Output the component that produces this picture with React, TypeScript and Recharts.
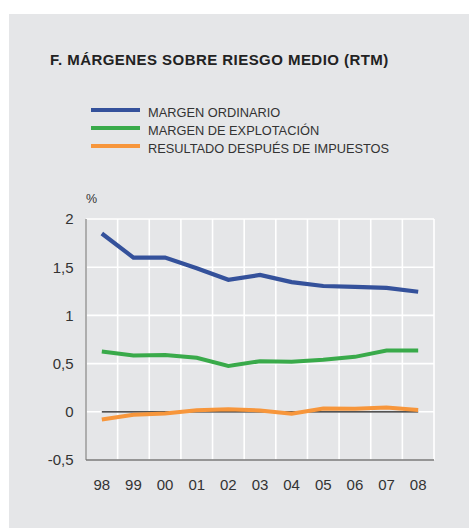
import React from 'react';
import { LineChart, Line, XAxis, YAxis, CartesianGrid, ReferenceLine } from 'recharts';

const years = ['98', '99', '00', '01', '02', '03', '04', '05', '06', '07', '08'];
const margenOrdinario = [1.85, 1.6, 1.6, 1.49, 1.37, 1.42, 1.345, 1.305, 1.295, 1.285, 1.245];
const margenExplotacion = [0.625, 0.585, 0.59, 0.56, 0.475, 0.525, 0.52, 0.54, 0.57, 0.635, 0.635];
const resultadoDespues = [-0.08, -0.03, -0.017, 0.017, 0.027, 0.014, -0.02, 0.035, 0.031, 0.045, 0.018];
const yTicks = [-0.5, 0, 0.5, 1, 1.5, 2];
const xTicks = years.map((_, i) => i);
const bandEdges = Array.from({ length: years.length + 1 }, (_, k) => k - 0.5);

const seriesNames = ['MARGEN ORDINARIO', 'MARGEN DE EXPLOTACIÓN', 'RESULTADO DESPUÉS DE IMPUESTOS'];
const seriesColors = ['#34519b', '#39aa4a', '#f7963b'];

const data = years.map((y, i) => ({
  i,
  year: y,
  mo: margenOrdinario[i],
  me: margenExplotacion[i],
  rd: resultadoDespues[i],
}));

const FONT = '"Liberation Sans", Arial, Helvetica, sans-serif';
const TEXT = '#333333';
const GRID = '#ffffff';

export default function App() {
  return (
    <div style={{ position: 'fixed', left: 0, top: 0, width: 469, height: 528, background: '#ffffff', overflow: 'hidden', fontFamily: FONT }}>
      <div style={{ position: 'absolute', left: 9, top: 14, width: 460, height: 514, background: '#e5e6e8' }} />
      <div style={{ position: 'absolute', left: 50, top: 52, fontSize: 15, lineHeight: '15px', fontWeight: 'bold', color: '#222', letterSpacing: 0.45, whiteSpace: 'nowrap' }}>
        F. MÁRGENES SOBRE RIESGO MEDIO (RTM)
      </div>
      {seriesNames.map((name, k) => (
        <div key={name} style={{ position: 'absolute', left: 91, top: 106.7 + k * 18.3, height: 13, whiteSpace: 'nowrap' }}>
          <div style={{ position: 'absolute', left: 0, top: 1, width: 49, height: 4, background: seriesColors[k] }} />
          <div style={{ position: 'absolute', left: 57, top: 0, fontSize: 12.8, lineHeight: '12.5px', color: TEXT }}>{name}</div>
        </div>
      ))}
      <div style={{ position: 'absolute', left: 86, top: 193.4, fontSize: 12.5, lineHeight: '12.5px', color: TEXT }}>%</div>
      <div style={{ position: 'absolute', left: 0, top: 0 }}>
        <LineChart width={469} height={528} data={data} margin={{ top: 219, right: 35, bottom: 28, left: 26 }}>
          <CartesianGrid stroke={GRID} strokeWidth={1.6} horizontal={true} vertical={false} />
          {bandEdges.map((e) => (
            <ReferenceLine key={'v' + e} x={e} stroke={GRID} strokeWidth={1.6} />
          ))}
          <XAxis
            type="number"
            dataKey="i"
            domain={[-0.5, years.length - 0.5]}
            ticks={xTicks}
            interval={0}
            tickFormatter={(v: number) => years[v]}
            axisLine={{ stroke: '#333333', strokeWidth: 1.2 }}
            tickLine={false}
            tickSize={0}
            tickMargin={19}
            height={40}
            tick={{ fill: TEXT, fontSize: 15, fontFamily: FONT }}
          />
          <YAxis
            type="number"
            domain={[-0.5, 2]}
            ticks={yTicks}
            interval={0}
            tickFormatter={(v: number) => String(v).replace('.', ',')}
            axisLine={{ stroke: '#7a7a7a', strokeWidth: 1.2 }}
            tickLine={false}
            tickSize={0}
            tickMargin={12.5}
            width={60}
            tick={{ fill: TEXT, fontSize: 15, fontFamily: FONT }}
          />
          <ReferenceLine segment={[{ x: 0, y: 0 }, { x: years.length - 1, y: 0 }]} stroke="#1a1a1a" strokeWidth={1.2} />
          <Line type="linear" dataKey="mo" stroke={seriesColors[0]} strokeWidth={4.2} dot={false} isAnimationActive={false} />
          <Line type="linear" dataKey="me" stroke={seriesColors[1]} strokeWidth={4} dot={false} isAnimationActive={false} />
          <Line type="linear" dataKey="rd" stroke={seriesColors[2]} strokeWidth={4} dot={false} isAnimationActive={false} />
        </LineChart>
      </div>
    </div>
  );
}
